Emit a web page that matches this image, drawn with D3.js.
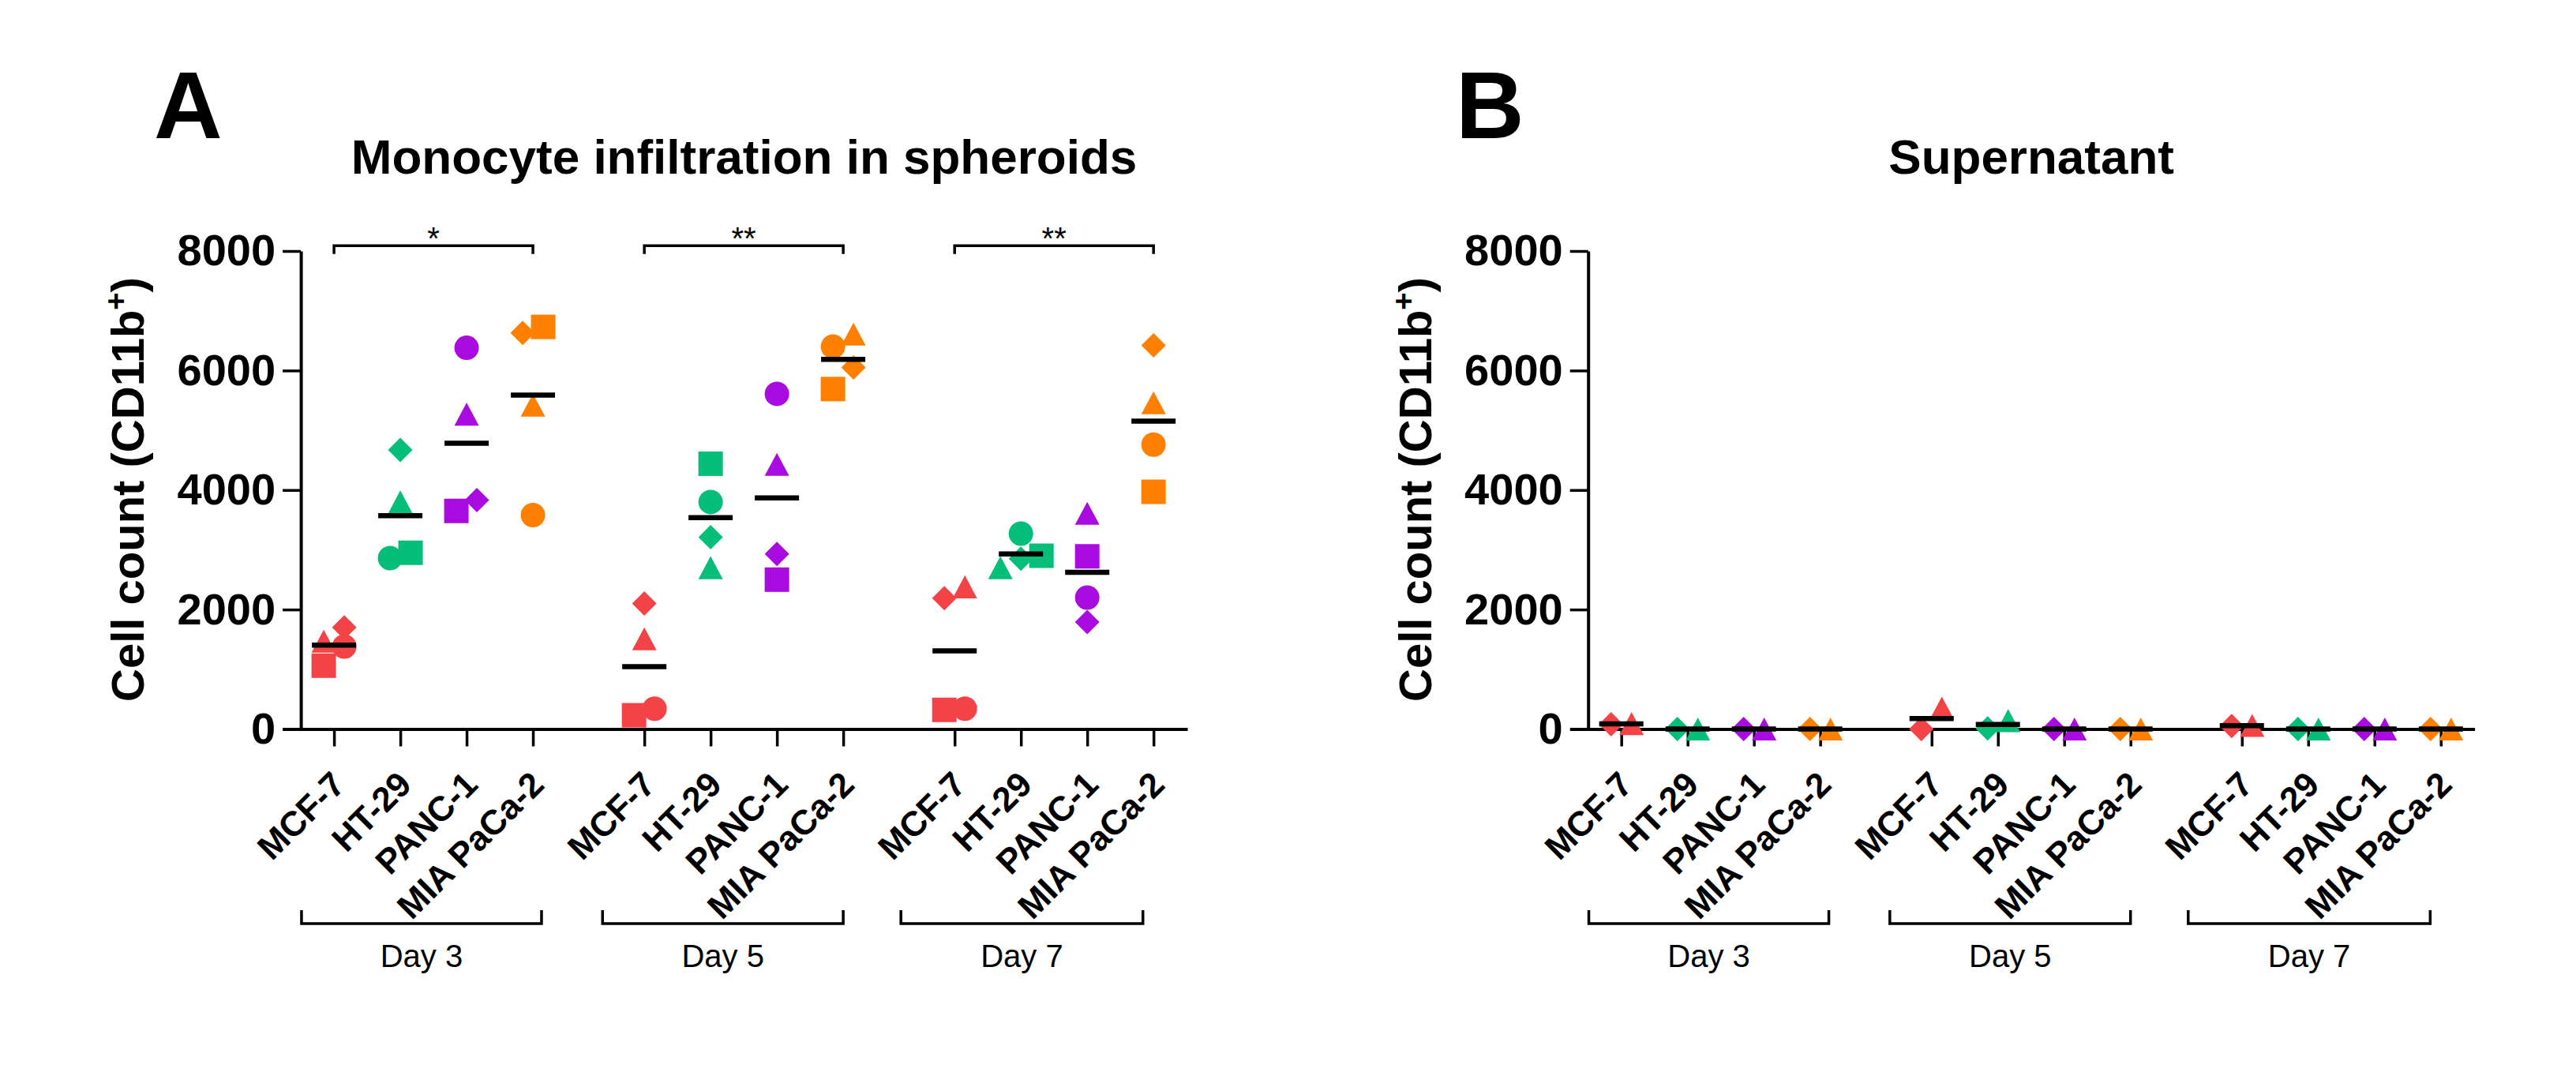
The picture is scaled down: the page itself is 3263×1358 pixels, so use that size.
<!DOCTYPE html>
<html>
<head>
<meta charset="utf-8">
<script src="https://cdn.jsdelivr.net/npm/d3@7"></script>
<style>
  body { margin: 0; background: #fff; }
  svg { display: block; }
</style>
</head>
<body>
<script>
// ---- data ----
const days = ["Day 3", "Day 5", "Day 7"]
const cellLines = ["MCF-7", "HT-29", "PANC-1", "MIA PaCa-2"]
const lineColors = ["#F44347", "#05BE7A", "#A90ADF", "#FF8000"]
const yTicks = [0, 2000, 4000, 6000, 8000]

// spheroids: per day, per cell line, replicates in the order of spheroidShapes
const spheroidShapes = ["square", "circle", "triangle", "diamond"]
const spheroidDay3 = [[1060, 1380, 1470, 1700], [2950, 2860, 3800, 4670], [3650, 6380, 5270, 3830], [6730, 3580, 5420, 6630]]
const spheroidDay5 = [[230, 340, 1510, 2100], [4440, 3800, 2700, 3210], [2500, 5610, 4430, 2930], [5690, 6400, 6610, 6050]]
const spheroidDay7 = [[320, 340, 2380, 2190], [2900, 3270, 2700, 2850], [2890, 2200, 3610, 1790], [3970, 4760, 5460, 6420]]

// supernatant: only two replicates are visible
const supernatantShapes = ["diamond", "triangle"]
const supernatantDay3 = [[80, 90], [0, 0], [0, 0], [0, 0]]
const supernatantDay5 = [[0, 350], [10, 140], [0, 0], [0, 0]]
const supernatantDay7 = [[50, 60], [0, 0], [0, 0], [0, 0]]

const sigLabels = ["*", "**", "**"]

// ---- layout ----
const W = 3263, H = 1358
const fontFamily = '"Liberation Sans", Arial, "DejaVu Sans", sans-serif'
const symbolR = 15.5
const rowGap = 30      // points closer than this (px) are put side by side
const sideStep = 26
const dayBracketSlots = [[-0.49, 3.13], [4.05, 7.68], [8.55, 12.2]]

const svg = d3.select("body").append("svg")
    .attr("width", W).attr("height", H)
    .style("background", "#fff")
    .attr("font-family", fontFamily)

const y = d3.scaleLinear().domain([0, 8000]).range([923.5, 318])
const x = d3.scaleLinear().domain([-0.775, 12.87]).range([0, 1146])
const slot = (g, i) => g * 4.68 + i
const slots = days.flatMap((d, g) => cellLines.map((c, i) => slot(g, i)))

function shapePath(shape, r) {
    const p = d3.path()
    if (shape === "square") p.rect(-r, -r, 2 * r, 2 * r)
    else if (shape === "circle") p.arc(0, 0, r, 0, 2 * Math.PI)
    else if (shape === "triangle") {
        p.moveTo(0, -r * 0.94); p.lineTo(r, r * 0.94); p.lineTo(-r, r * 0.94); p.closePath()
    } else {
        p.moveTo(0, -r); p.lineTo(r, 0); p.lineTo(0, r); p.lineTo(-r, 0); p.closePath()
    }
    return p.toString()
}

// horizontal spread of overlapping replicates, rows built from the lowest value up
function spread(values) {
    const order = d3.range(values.length).sort((a, b) => values[a] - values[b] || a - b)
    const offsets = values.map(() => 0)
    let row = []
    const flush = () => {
        row.forEach((idx, k) => offsets[idx] = (k - (row.length - 1) / 2) * sideStep)
        row = []
    }
    order.forEach(idx => {
        if (row.length && y(values[row[0]]) - y(values[idx]) >= rowGap) flush()
        row.push(idx)
    })
    flush()
    return offsets
}

function drawPanel(opts) {
    const g = svg.append("g").attr("transform", `translate(${opts.left},0)`)

    // y axis
    const yAxis = g.append("g")
        .attr("transform", `translate(${x(-0.5)},0)`)
        .call(d3.axisLeft(y).tickValues(yTicks).tickFormat(d3.format("d"))
            .tickSize(23).tickPadding(9).tickSizeOuter(0))
    yAxis.attr("font-family", null).attr("font-size", null)
    yAxis.select(".domain").attr("stroke-width", 4)
    yAxis.selectAll(".tick line").attr("stroke-width", 3.5)
    yAxis.selectAll(".tick text")
        .attr("font-size", 56).attr("font-weight", "bold").attr("fill", "#000")

    // x axis with rotated cell line labels
    const xAxis = g.append("g")
        .attr("transform", `translate(0,${y(0)})`)
        .call(d3.axisBottom(x).tickValues(slots).tickSize(22).tickSizeOuter(0)
            .tickFormat((d, i) => cellLines[i % cellLines.length]))
    xAxis.attr("font-family", null).attr("font-size", null)
    xAxis.select(".domain").attr("stroke-width", 4)
    xAxis.selectAll(".tick line").attr("stroke-width", 3.5)
    xAxis.selectAll(".tick text")
        .attr("x", 0).attr("y", 0).attr("dy", null)
        .attr("text-anchor", "end")
        .attr("transform", "translate(16,73) rotate(-45)")
        .attr("font-size", 44).attr("font-weight", "bold").attr("fill", "#000")

    // points
    const pts = []
    const means = []
    opts.series.forEach((dayVals, gi) => {
        dayVals.forEach((vals, ci) => {
            const off = spread(vals)
            vals.forEach((v, k) => pts.push({ cx: x(slot(gi, ci)) + off[k], v, shape: opts.shapes[k], color: lineColors[ci] }))
            means.push({ cx: x(slot(gi, ci)), v: d3.mean(vals) })
        })
    })
    g.append("g").selectAll("path")
        .data(pts)
        .join("path")
        .attr("d", d => shapePath(d.shape, symbolR))
        .attr("transform", d => `translate(${d.cx},${y(d.v)})`)
        .attr("fill", d => d.color)

    g.append("g").selectAll("line")
        .data(means)
        .join("line")
        .attr("x1", d => d.cx - 28).attr("x2", d => d.cx + 28)
        .attr("y1", d => y(d.v)).attr("y2", d => y(d.v))
        .attr("stroke", "#000").attr("stroke-width", 6.5)

    // significance brackets
    if (opts.sig) {
        const sg = g.append("g")
        opts.sig.forEach((lab, gi) => {
            const x1 = x(slot(gi, 0)), x2 = x(slot(gi, 3))
            sg.append("path")
                .attr("d", `M${x1},${y(7950)}V${y(8090)}H${x2}V${y(7950)}`)
                .attr("fill", "none").attr("stroke", "#000").attr("stroke-width", 3.5)
            sg.append("text")
                .attr("x", (x1 + x2) / 2).attr("y", y(8090) + 5)
                .attr("text-anchor", "middle").attr("font-size", 40)
                .text(lab)
        })
    }

    // day brackets under the labels
    days.forEach((d, gi) => {
        const x1 = x(dayBracketSlots[gi][0]), x2 = x(dayBracketSlots[gi][1])
        g.append("path")
            .attr("d", `M${x1},1153V1170H${x2}V1153`)
            .attr("fill", "none").attr("stroke", "#000").attr("stroke-width", 3.5)
        g.append("text")
            .attr("x", (x1 + x2) / 2).attr("y", 1225)
            .attr("text-anchor", "middle").attr("font-size", 40)
            .text(d)
    })

    // axis title
    const yt = g.append("text")
        .attr("transform", `translate(-176,620) rotate(-90)`)
        .attr("text-anchor", "middle")
        .attr("font-size", 58).attr("font-weight", "bold")
    yt.append("tspan").text("Cell count (CD11b")
    yt.append("tspan").attr("dy", -22).attr("font-size", 38).text("+")
    yt.append("tspan").attr("dy", 22).text(")")

    // panel title
    g.append("text")
        .attr("x", (x(-0.5) + x.range()[1]) / 2).attr("y", 220)
        .attr("text-anchor", "middle")
        .attr("font-size", 62).attr("font-weight", "bold")
        .text(opts.title)

    svg.append("text")
        .attr("x", opts.letterX).attr("y", 175)
        .attr("font-size", 120).attr("font-weight", "bold")
        .text(opts.letter)
}

drawPanel({
    left: 358, letter: "A", letterX: 195,
    title: "Monocyte infiltration in spheroids",
    series: [spheroidDay3, spheroidDay5, spheroidDay7],
    shapes: spheroidShapes,
    sig: sigLabels
})

drawPanel({
    left: 1988.6, letter: "B", letterX: 1844,
    title: "Supernatant",
    series: [supernatantDay3, supernatantDay5, supernatantDay7],
    shapes: supernatantShapes,
    sig: null
})
</script>
</body>
</html>
